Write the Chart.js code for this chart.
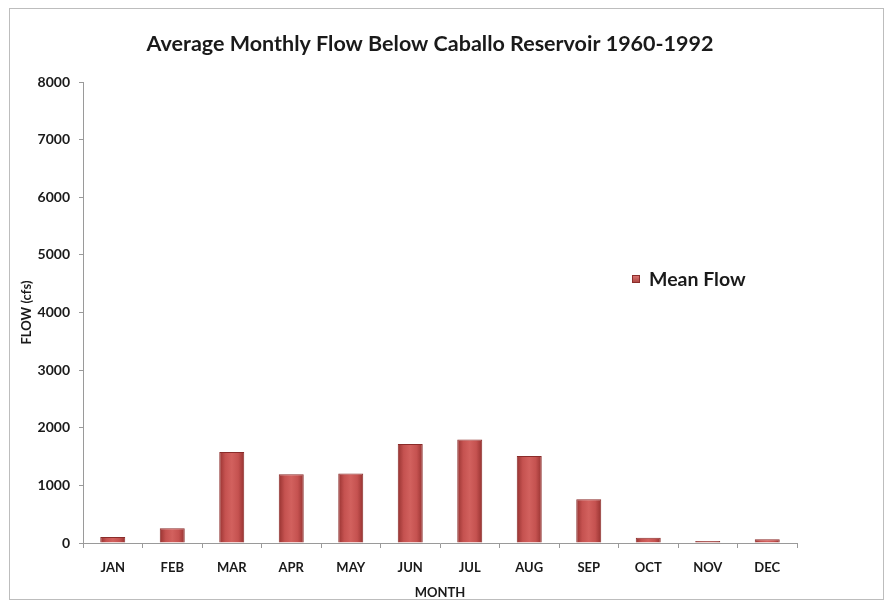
<!DOCTYPE html>
<html>
<head>
<meta charset="utf-8">
<script src="https://cdn.jsdelivr.net/npm/chart.js@4.4.1/dist/chart.umd.min.js"></script>
<style>
  html, body { margin: 0; padding: 0; background: #fff; }
  #wrap { position: relative; width: 886px; height: 607px; }
  #frame { position: absolute; left: 9px; top: 8px; width: 875px; height: 592px; border: 1px solid #bdbdbd; box-sizing: border-box; pointer-events: none; }
</style>
</head>
<body>
<div id="wrap">
  <canvas id="chart" width="886" height="607"></canvas>
  <div id="frame"></div>
</div>
<script>
// Chart values
const months = ['JAN', 'FEB', 'MAR', 'APR', 'MAY', 'JUN', 'JUL', 'AUG', 'SEP', 'OCT', 'NOV', 'DEC'];
const meanFlow = [105, 255, 1580, 1195, 1205, 1720, 1795, 1510, 760, 90, 35, 65];
const seriesName = 'Mean Flow';
const chartTitle = 'Average Monthly Flow Below Caballo Reservoir 1960-1992';
const yMax = 8000;
const yStep = 1000;

const fontFamily = 'Lato, "Open Sans", sans-serif';

// horizontal gradient across each bar to mimic the shaded Excel column
function barFill(ctx) {
    const chart = ctx.chart;
    const x = chart.scales && chart.scales.x;
    if (!x || ctx.dataIndex === undefined) return '#c0504d';
    const cx = x.getPixelForValue(ctx.dataIndex);
    if (!isFinite(cx)) return '#c0504d';
    const half = 13;
    const g = chart.ctx.createLinearGradient(cx - half, 0, cx + half, 0);
    g.addColorStop(0, '#93302e');
    g.addColorStop(0.25, '#c55250');
    g.addColorStop(0.5, '#d2615e');
    g.addColorStop(0.75, '#c55250');
    g.addColorStop(1, '#93302e');
    return g;
}

// title (slightly left of centre) and legend floating inside the plot, like the original
const overlay = {
    id: 'overlay',
    afterDraw(chart) {
        const c = chart.ctx;
        c.save();
        c.fillStyle = '#1a1a1a';
        c.font = 'bold 21.5px ' + fontFamily;
        c.textAlign = 'center';
        c.textBaseline = 'middle';
        c.fillText(chartTitle, 430, 44);

        const g = c.createLinearGradient(0, 275, 0, 283);
        g.addColorStop(0, '#e07a77');
        g.addColorStop(1, '#a8403d');
        c.fillStyle = g;
        c.fillRect(632, 275, 8, 8);
        c.strokeStyle = '#8b2d2b';
        c.lineWidth = 1;
        c.strokeRect(632.5, 275.5, 7, 7);
        c.fillStyle = '#1a1a1a';
        c.font = 'bold 19.5px ' + fontFamily;
        c.textAlign = 'left';
        c.fillText(seriesName, 649, 280);
        c.restore();
    }
};

new Chart(document.getElementById('chart'), {
    type: 'bar',
    data: {
        labels: months,
        datasets: [{
            label: seriesName,
            data: meanFlow,
            backgroundColor: barFill,
            borderColor: '#8a2c2a',
            borderWidth: 1,
            barPercentage: 0.42,
            categoryPercentage: 1.0
        }]
    },
    options: {
        responsive: false,
        animation: false,
        layout: { padding: { left: 19, right: 89, top: 82, bottom: 6 } },
        plugins: {
            legend: { display: false },
            tooltip: { enabled: false },
            title: { display: false }
        },
        scales: {
            x: {
                afterFit(scale) { scale.height = 58; },
                grid: {
                    display: true,
                    drawOnChartArea: false,
                    drawTicks: true,
                    tickLength: 5,
                    color: '#9a9a9a',
                    offset: true
                },
                border: { color: '#9a9a9a' },
                ticks: {
                    color: '#1a1a1a',
                    padding: 12,
                    font: { family: fontFamily, size: 13, weight: 'bold' }
                },
                title: {
                    display: true,
                    text: 'MONTH',
                    color: '#1a1a1a',
                    font: { family: fontFamily, size: 13, weight: 'bold' },
                    padding: { top: 0, bottom: 0 }
                }
            },
            y: {
                min: 0,
                max: yMax,
                afterFit(scale) { scale.width = 64; },
                grid: {
                    display: true,
                    drawOnChartArea: false,
                    drawTicks: true,
                    tickLength: 4,
                    color: '#9a9a9a'
                },
                border: { color: '#9a9a9a' },
                ticks: {
                    stepSize: yStep,
                    color: '#1a1a1a',
                    padding: 9,
                    callback: v => String(v),
                    font: { family: fontFamily, size: 14, weight: 'bold' }
                },
                title: {
                    display: true,
                    text: 'FLOW (cfs)',
                    color: '#1a1a1a',
                    font: { family: fontFamily, size: 13, weight: 'bold' },
                    padding: { top: 0, bottom: 0 }
                }
            }
        }
    },
    plugins: [overlay]
});
</script>
</body>
</html>
